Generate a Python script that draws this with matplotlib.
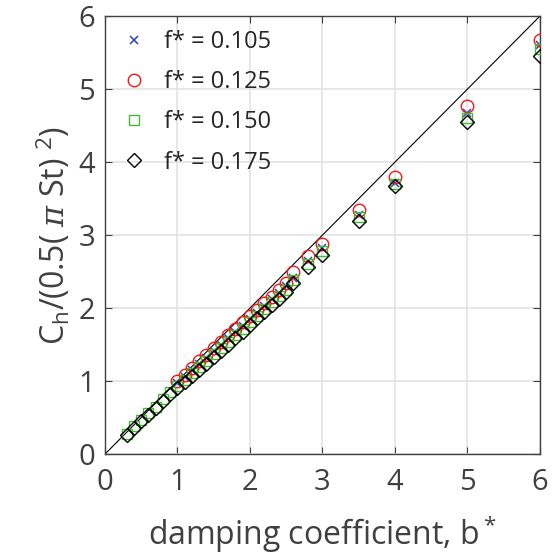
import matplotlib.pyplot as plt

plt.rcParams['font.family'] = ['Open Sans', 'DejaVu Sans']
plt.rcParams['mathtext.fontset'] = 'custom'
plt.rcParams['mathtext.rm'] = 'Open Sans'
plt.rcParams['mathtext.it'] = 'DejaVu Serif:italic'

# damping coefficient b*
b_low = [0.3, 0.4, 0.5, 0.6, 0.7, 0.8, 0.9]
b_high = [1.0, 1.1, 1.2, 1.3, 1.4, 1.5, 1.6, 1.7, 1.8, 1.9, 2.0, 2.1, 2.2,
          2.3, 2.4, 2.5, 2.6, 2.8, 3.0, 3.5, 4.0, 5.0, 6.0]
b_all = b_low + b_high

# normalised Ch for each f*
ch_105 = [0.97, 1.06, 1.15, 1.23, 1.32, 1.41, 1.50, 1.59, 1.68, 1.76, 1.85,
          1.94, 2.03, 2.12, 2.21, 2.30, 2.42, 2.65, 2.83, 3.28, 3.72, 4.68, 5.60]
ch_125 = [1.00, 1.09, 1.18, 1.27, 1.36, 1.45, 1.54, 1.63, 1.72, 1.81, 1.90,
          1.98, 2.07, 2.16, 2.25, 2.34, 2.49, 2.71, 2.88, 3.35, 3.80, 4.77, 5.68]
ch_150 = [0.28, 0.38, 0.47, 0.56, 0.65, 0.75, 0.85, 0.93, 1.02, 1.11, 1.19,
          1.28, 1.37, 1.45, 1.54, 1.63, 1.72, 1.81, 1.90, 1.99, 2.08, 2.17,
          2.25, 2.39, 2.61, 2.78, 3.25, 3.70, 4.60, 5.55]
ch_175 = [0.27, 0.36, 0.45, 0.54, 0.63, 0.73, 0.82, 0.91, 0.99, 1.07, 1.16,
          1.24, 1.33, 1.41, 1.50, 1.59, 1.68, 1.77, 1.86, 1.95, 2.04, 2.13,
          2.22, 2.35, 2.56, 2.73, 3.20, 3.67, 4.55, 5.45]

fig = plt.figure(figsize=(5.52, 5.58), dpi=100)
ax = fig.add_axes([0.190, 0.186, 0.788, 0.785])

ax.plot([0, 6], [0, 6], color='k', lw=0.8, zorder=2)
ax.plot(b_high, ch_105, 'x', color='#2b47b8', ms=6, mew=1.1, label='f* = 0.105', zorder=3)
ax.plot(b_high, ch_125, 'o', color='#f01818', mfc='none', ms=9, mew=1.0, label='f* = 0.125', zorder=3)
ax.plot(b_all, ch_150, 's', color='#44bb30', mfc='none', ms=6.5, mew=1.0, label='f* = 0.150', zorder=3)
ax.plot(b_all, ch_175, 'D', color='k', mfc='none', ms=7, mew=1.0, label='f* = 0.175', zorder=3)

ax.set_xlim(0, 6)
ax.set_ylim(0, 6)
ax.set_xticks(range(7))
ax.set_yticks(range(7))
ax.grid(True, color='#e3e3e3', lw=1.2)
ax.set_axisbelow(True)
ax.tick_params(direction='in', length=5, labelsize=21, colors='#404040', pad=7,
               top=True, right=True)
ax.tick_params(axis='x', pad=10)
for s in ax.spines.values():
    s.set_color('#404040')
    s.set_linewidth(1.0)

ax.set_xlabel('damping coefficient, b$^*$', fontsize=23, color='#404040', labelpad=12)
ax.set_ylabel(r'C$_\mathregular{h}$/(0.5( $\pi$ St) $^\mathregular{2}$)', fontsize=23,
              color='#404040', labelpad=4)

leg = ax.legend(loc='upper left', frameon=False, fontsize=17, handletextpad=0.6,
                labelspacing=0.68, borderaxespad=0.0, handlelength=1.3,
                borderpad=0.6)
for t in leg.get_texts():
    t.set_color('#262626')

fig.savefig('out.png', dpi=100)
